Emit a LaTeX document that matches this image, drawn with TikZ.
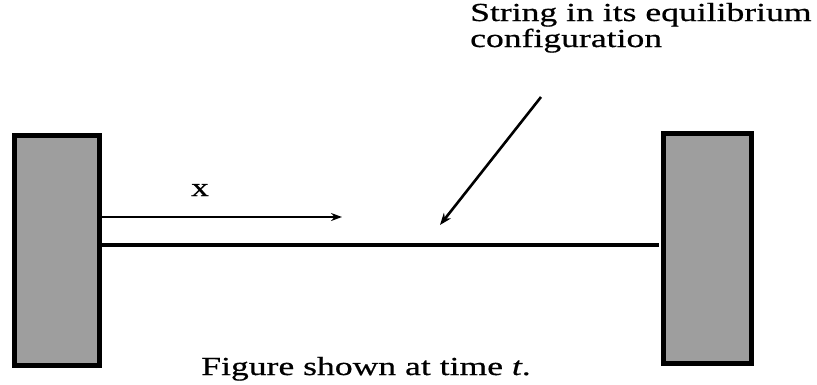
\documentclass[tikz,border=0pt]{standalone}
\usepackage{fontspec}
\setmainfont{Liberation Serif}
\newfontfamily\widefont[FakeStretch=1.37,FakeBold=0.6]{Liberation Serif}
\usetikzlibrary{arrows.meta}
\begin{document}
\begin{tikzpicture}[x=1pt,y=-1pt,
  wall/.style={draw=black,line width=4.5pt,fill=black!38,inner sep=0pt,anchor=north west},
  lab/.style={font=\widefont\fontsize{26}{26}\selectfont,inner sep=0pt},
  ptr/.style={line width=2.6pt,-{Stealth[length=12pt,width=9pt]}}]
\useasboundingbox (0,0) rectangle (817,384);
\node[wall,minimum width=85pt,minimum height=230pt] (L) at (12,133) {};
\node[wall,minimum width=88pt,minimum height=230pt] (R) at (661,131) {};
\coordinate (sL) at (99,245);
\coordinate (sR) at (659,245);
\draw[line width=3.5pt] (sL) -- (sR);
\coordinate (xs) at (99,217);
\coordinate (xe) at (342,217);
\draw[line width=2.2pt,-{Stealth[length=11pt,width=8pt]}] (xs) -- (xe);
\node[lab,anchor=base] (xl) at (200,196) {x};
\node[lab,anchor=base west] (top1) at (470,21) {String in its equilibrium};
\node[lab,anchor=base west] (top2) at (470,47) {configuration};
\coordinate (p0) at (541,97);
\coordinate (p1) at (440,225);
\draw[ptr] (p0) -- (p1);
\node[lab,anchor=base] (cap) at (366,375) {Figure shown at time \textit{t}.};
\end{tikzpicture}
\end{document}
